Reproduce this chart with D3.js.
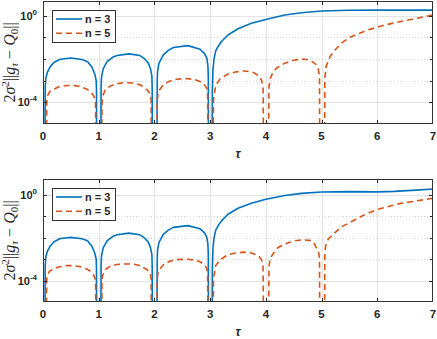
<!DOCTYPE html>
<html>
<head>
<meta charset="utf-8">
<script src="https://cdn.jsdelivr.net/npm/d3@7"></script>
<style>
  body { margin: 0; background: #fff; }
  svg { display: block; }
</style>
</head>
<body>
<svg id="chart" width="437" height="339"></svg>
<script>
const tauTicks = [0, 1, 2, 3, 4, 5, 6, 7];
const decadeTicks = [0, -1, -2, -3, -4];
const labelledDecades = [0, -4];
const seriesNames = ["n = 3", "n = 5"];

// points are [tau, log10 of the error]
const n3Top = [
  [0.035,-6],[0.04,-3.3],[0.05,-2.9],[0.08,-2.6],[0.13,-2.35],[0.2,-2.15],[0.31,-2.01],[0.5,-1.95],[0.7,-2.02],[0.8,-2.12],[0.88,-2.38],[0.93,-2.7],[0.955,-3.0],[0.96,-3.4],[0.963,-6],
  [1.04,-6],[1.043,-3.3],[1.05,-2.85],[1.08,-2.45],[1.15,-2.12],[1.25,-1.92],[1.33,-1.84],[1.54,-1.76],[1.74,-1.84],[1.82,-1.98],[1.89,-2.19],[1.93,-2.45],[1.955,-2.8],[1.96,-3.4],[1.963,-6],
  [2.045,-6],[2.05,-3.0],[2.055,-2.6],[2.08,-2.2],[2.16,-1.81],[2.25,-1.6],[2.34,-1.47],[2.6,-1.38],[2.82,-1.55],[2.9,-1.75],[2.94,-1.96],[2.96,-2.3],[2.967,-2.8],[2.97,-6],
  [3.035,-6],[3.04,-3.5],[3.05,-2.5],[3.07,-2.0],[3.1,-1.62],[3.14,-1.43],[3.2,-1.2],[3.32,-0.89],[3.5,-0.6],[3.74,-0.35],[4.0,-0.17],[4.34,0.03],[4.64,0.14],[5,0.22],[5.5,0.25],[6,0.26],[7,0.26]
];
const n5Top = [
  [0.06,-6],[0.065,-4.3],[0.07,-3.75],[0.12,-3.5],[0.19,-3.39],[0.3,-3.27],[0.43,-3.22],[0.55,-3.22],[0.67,-3.27],[0.78,-3.38],[0.85,-3.5],[0.91,-3.7],[0.94,-3.9],[0.945,-4.3],[0.948,-6],
  [1.055,-6],[1.058,-4.2],[1.065,-3.75],[1.12,-3.4],[1.21,-3.24],[1.32,-3.14],[1.45,-3.09],[1.62,-3.11],[1.75,-3.2],[1.87,-3.42],[1.92,-3.6],[1.94,-3.9],[1.945,-6],
  [2.045,-6],[2.05,-3.9],[2.07,-3.5],[2.16,-3.19],[2.27,-3.02],[2.4,-2.93],[2.58,-2.9],[2.72,-2.95],[2.82,-3.04],[2.9,-3.2],[2.94,-3.35],[2.955,-3.7],[2.96,-6],
  [3.055,-6],[3.06,-3.9],[3.1,-3.2],[3.18,-2.92],[3.32,-2.69],[3.45,-2.6],[3.6,-2.55],[3.72,-2.58],[3.8,-2.65],[3.88,-2.8],[3.92,-2.96],[3.95,-3.3],[3.958,-6],
  [4.05,-6],[4.055,-3.3],[4.08,-2.9],[4.13,-2.6],[4.2,-2.4],[4.34,-2.19],[4.5,-2.06],[4.64,-2.0],[4.75,-2.03],[4.82,-2.09],[4.9,-2.25],[4.94,-2.45],[4.963,-2.8],[4.967,-6],
  [5.055,-6],[5.058,-2.9],[5.08,-2.35],[5.15,-1.9],[5.24,-1.58],[5.38,-1.22],[5.53,-0.97],[5.83,-0.66],[6.13,-0.43],[6.49,-0.23],[7,0.03]
];
const n3Bottom = [
  [0.035,-6],[0.04,-3.3],[0.05,-2.9],[0.08,-2.62],[0.13,-2.38],[0.2,-2.18],[0.31,-2.03],[0.5,-1.98],[0.7,-2.04],[0.8,-2.14],[0.88,-2.4],[0.93,-2.72],[0.955,-3.0],[0.96,-3.4],[0.963,-6],
  [1.04,-6],[1.043,-3.3],[1.05,-2.85],[1.08,-2.47],[1.15,-2.14],[1.25,-1.94],[1.33,-1.86],[1.54,-1.78],[1.74,-1.86],[1.82,-2.0],[1.89,-2.2],[1.93,-2.46],[1.955,-2.8],[1.96,-3.4],[1.963,-6],
  [2.045,-6],[2.05,-3.0],[2.055,-2.6],[2.08,-2.22],[2.16,-1.84],[2.25,-1.64],[2.34,-1.51],[2.6,-1.43],[2.82,-1.58],[2.9,-1.77],[2.94,-1.98],[2.96,-2.3],[2.967,-2.8],[2.97,-6],
  [3.035,-6],[3.04,-3.5],[3.05,-2.5],[3.07,-2.0],[3.1,-1.64],[3.14,-1.45],[3.2,-1.22],[3.32,-0.9],[3.5,-0.62],[3.74,-0.38],[4.0,-0.2],[4.34,-0.02],[4.64,0.08],[5,0.14],[5.5,0.16],[6,0.15],[6.3,0.17],[6.7,0.23],[7,0.28]
];
const n5Bottom = [
  [0.06,-6],[0.065,-4.3],[0.07,-3.8],[0.12,-3.55],[0.19,-3.45],[0.3,-3.35],[0.43,-3.3],[0.55,-3.3],[0.67,-3.35],[0.78,-3.45],[0.85,-3.56],[0.91,-3.75],[0.94,-3.95],[0.945,-4.3],[0.948,-6],
  [1.055,-6],[1.058,-4.2],[1.065,-3.8],[1.12,-3.48],[1.21,-3.32],[1.32,-3.25],[1.45,-3.22],[1.62,-3.23],[1.75,-3.3],[1.87,-3.5],[1.92,-3.65],[1.94,-3.9],[1.945,-6],
  [2.045,-6],[2.05,-3.9],[2.07,-3.55],[2.16,-3.26],[2.27,-3.1],[2.4,-3.02],[2.58,-3.0],[2.72,-3.04],[2.82,-3.12],[2.9,-3.28],[2.94,-3.42],[2.955,-3.75],[2.96,-6],
  [3.055,-6],[3.06,-3.95],[3.1,-3.3],[3.18,-3.02],[3.32,-2.79],[3.45,-2.71],[3.6,-2.67],[3.72,-2.7],[3.83,-2.79],[3.88,-2.88],[3.92,-3.02],[3.95,-3.35],[3.958,-6],
  [4.05,-6],[4.055,-3.35],[4.08,-2.95],[4.14,-2.71],[4.22,-2.45],[4.38,-2.25],[4.52,-2.14],[4.67,-2.09],[4.78,-2.12],[4.85,-2.17],[4.91,-2.48],[4.95,-2.7],[4.963,-3.0],[4.967,-6],
  [5.055,-6],[5.058,-2.9],[5.07,-2.4],[5.12,-2.05],[5.2,-1.86],[5.35,-1.5],[5.54,-1.24],[5.75,-0.95],[6.0,-0.67],[6.42,-0.39],[7,-0.15]
];

const colors = ["#0072BD", "#D95319"];
const svg = d3.select("#chart");
const left = 43, right = 433;

const panels = [
  { top: 1, bottom: 124, yMaxExp: 0.68, n3: n3Top, n5: n5Top },
  { top: 179, bottom: 302, yMaxExp: 0.75, n3: n3Bottom, n5: n5Bottom }
];

panels.forEach((p, i) => drawPanel(p, i));

function drawPanel(p, idx) {
  const g = svg.append("g");
  const x = d3.scaleLinear().domain([0, 7]).range([left, right]);
  const y = d3.scaleLog().domain([1e-5, Math.pow(10, p.yMaxExp)]).range([p.bottom, p.top]);
  const clipId = "clip" + idx;

  g.append("clipPath").attr("id", clipId)
    .append("rect")
    .attr("x", left).attr("y", p.top)
    .attr("width", right - left).attr("height", p.bottom - p.top);

  // grid
  g.selectAll(".vgrid").data(tauTicks.slice(1, -1)).enter().append("line")
    .attr("x1", d => Math.round(x(d)) + 0.5).attr("x2", d => Math.round(x(d)) + 0.5)
    .attr("y1", p.top).attr("y2", p.bottom)
    .attr("stroke", "#e3e3e3").attr("stroke-width", 1);
  g.selectAll(".hgrid").data(decadeTicks).enter().append("line")
    .attr("x1", left).attr("x2", right)
    .attr("y1", d => Math.round(y(Math.pow(10, d))) + 0.5)
    .attr("y2", d => Math.round(y(Math.pow(10, d))) + 0.5)
    .attr("stroke", d => labelledDecades.includes(d) ? "#e3e3e3" : "#d6d6d6")
    .attr("stroke-dasharray", d => labelledDecades.includes(d) ? null : "1,2")
    .attr("stroke-width", 1);

  // curves
  const line = d3.line()
    .x(d => x(d[0]))
    .y(d => y(Math.pow(10, d[1])));
  const plot = g.append("g").attr("clip-path", `url(#${clipId})`);
  plot.append("path").datum(p.n3)
    .attr("d", line).attr("fill", "none")
    .attr("stroke", colors[0]).attr("stroke-width", 1.6).attr("stroke-linejoin", "round");
  plot.append("path").datum(p.n5)
    .attr("d", line).attr("fill", "none")
    .attr("stroke", colors[1]).attr("stroke-width", 1.6)
    .attr("stroke-dasharray", "6,4");

  // ticks
  const tickColor = "#262626";
  g.selectAll(".xt").data(tauTicks.slice(1, -1)).enter().append("path")
    .attr("d", d => {
      const xx = Math.round(x(d)) + 0.5;
      return `M${xx},${p.top}v4M${xx},${p.bottom}v-4`;
    })
    .attr("stroke", tickColor).attr("stroke-width", 1);
  g.selectAll(".yt").data(decadeTicks).enter().append("path")
    .attr("d", d => {
      const yy = Math.round(y(Math.pow(10, d))) + 0.5;
      const len = labelledDecades.includes(d) ? 4 : 3;
      return `M${left},${yy}h${len}M${right},${yy}h${-len}`;
    })
    .attr("stroke", tickColor).attr("stroke-width", 1);

  // box
  g.append("rect")
    .attr("x", left + 0.5).attr("y", p.top + 0.5)
    .attr("width", right - left - 1).attr("height", p.bottom - p.top - 1)
    .attr("fill", "none").attr("stroke", "#333").attr("stroke-width", 1);

  // x tick labels
  g.selectAll(".xl").data(tauTicks).enter().append("text")
    .attr("x", d => x(d)).attr("y", p.bottom + 16)
    .attr("text-anchor", "middle")
    .style("font-family", "'Liberation Sans', Arial, sans-serif")
    .style("font-weight", "bold").style("font-size", "11.5px")
    .attr("fill", "#262626")
    .text(d => d);

  // y tick labels
  labelledDecades.forEach(d => {
    const t = g.append("text")
      .attr("x", 37).attr("y", y(Math.pow(10, d)) + 4)
      .attr("text-anchor", "end")
      .style("font-family", "'Liberation Sans', Arial, sans-serif")
      .style("font-weight", "bold").style("font-size", "11px")
      .attr("fill", "#262626");
    t.append("tspan").text("10");
    t.append("tspan").attr("dy", -5).style("font-size", "8px").text(d);
  });

  // x label
  g.append("text")
    .attr("x", 238).attr("y", p.bottom + 34)
    .attr("text-anchor", "middle")
    .style("font-family", "'Liberation Sans', Arial, sans-serif")
    .style("font-weight", "bold").style("font-style", "italic").style("font-size", "12px")
    .attr("fill", "#262626")
    .text("τ");

  // y label
  const cy = (p.top + p.bottom) / 2;
  const yl = g.append("text")
    .attr("transform", `translate(15,${cy}) rotate(-90)`)
    .attr("text-anchor", "middle")
    .style("font-family", "'Liberation Serif', 'DejaVu Serif', serif")
    .style("font-size", "16px")
    .attr("fill", "#262626");
  yl.append("tspan").text("2");
  yl.append("tspan").style("font-style", "italic").text("σ");
  yl.append("tspan").attr("dy", -6).style("font-size", "11px").text("2");
  yl.append("tspan").attr("dy", 6).text("||");
  yl.append("tspan").style("font-style", "italic").text("g");
  yl.append("tspan").attr("dy", 3).style("font-size", "11px").style("font-style", "italic").text("τ");
  yl.append("tspan").attr("dy", -3).text(" − ");
  yl.append("tspan").style("font-style", "italic").text("Q");
  yl.append("tspan").attr("dy", 3).style("font-size", "11px").text("0");
  yl.append("tspan").attr("dy", -3).text("||");

  // legend
  const ly = p.top + 9;
  const lg = g.append("g");
  lg.append("rect")
    .attr("x", 52.5).attr("y", ly + 0.5).attr("width", 63).attr("height", 32)
    .attr("fill", "#fff").attr("stroke", "#333").attr("stroke-width", 1);
  seriesNames.forEach((name, k) => {
    const yy = ly + 9 + k * 14.3;
    lg.append("line")
      .attr("x1", 56).attr("x2", 82).attr("y1", yy).attr("y2", yy)
      .attr("stroke", colors[k]).attr("stroke-width", 1.6)
      .attr("stroke-dasharray", k === 1 ? "6,4" : null);
    lg.append("text")
      .attr("x", 85).attr("y", yy + 4)
      .style("font-family", "'Liberation Sans', Arial, sans-serif")
      .style("font-weight", "bold").style("font-size", "11px")
      .attr("fill", "#262626")
      .text(name);
  });
}
</script>
</body>
</html>
